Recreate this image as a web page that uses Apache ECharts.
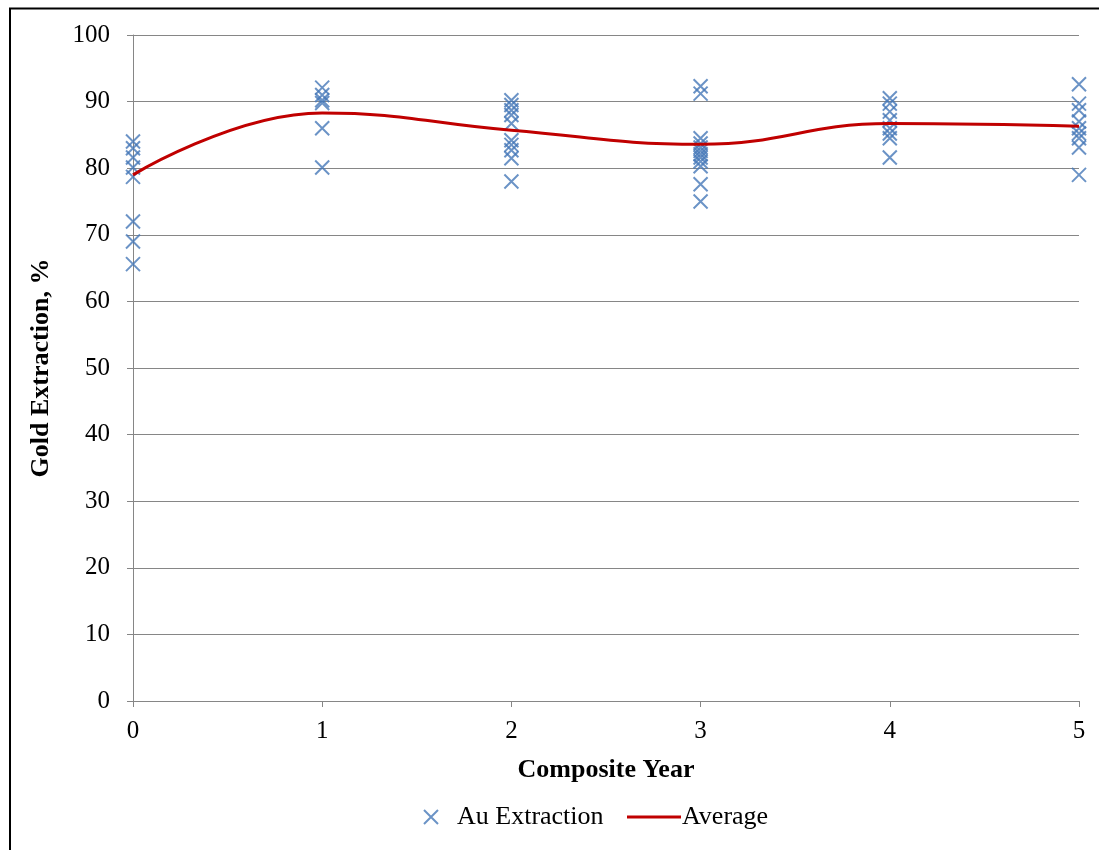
<!DOCTYPE html>
<html>
<head>
<meta charset="utf-8">
<script src="https://cdn.jsdelivr.net/npm/echarts@6/dist/echarts.min.js"></script>
<style>
html,body{margin:0;padding:0;background:#fff;}
#c{width:1099px;height:850px;}
</style>
</head>
<body>
<div id="c"></div>
<script>
// Composite year of each sample and gold extraction (%)
const year0 = [84.0, 83.0, 81.6, 80.1, 78.7, 72.0, 69.0, 65.6];
const year1 = [92.1, 91.0, 90.2, 89.8, 86.0, 80.1];
const year2 = [90.2, 89.5, 88.7, 88.0, 86.7, 84.2, 83.5, 82.7, 81.5, 78.0];
const year3 = [92.3, 91.2, 84.5, 83.7, 83.1, 82.6, 82.1, 81.6, 81.0, 80.3, 77.6, 75.0];
const year4 = [90.5, 89.7, 88.5, 87.2, 86.0, 85.2, 84.5, 81.6];
const year5 = [92.6, 89.7, 88.7, 87.0, 86.0, 85.2, 84.5, 83.1, 79.0];
const avgYears = [0, 1, 2, 3, 4, 5];
const avgValues = [79.0, 88.3, 85.7, 83.6, 86.7, 86.3];
const yTicks = [0, 100, 10];
const xTicks = [0, 5, 1];

const groups = [year0, year1, year2, year3, year4, year5];
const scatterData = [];
groups.forEach((g, yr) => g.forEach(v => scatterData.push([yr, v])));
const avgData = avgYears.map((x, i) => [x, avgValues[i]]);

const font = '"Liberation Serif", "Times New Roman", serif';
const grey = '#868686';
const chart = echarts.init(document.getElementById('c'));
chart.setOption({
  animation: false,
  backgroundColor: '#fff',
  graphic: [{
    type: 'polyline', silent: true,
    shape: { points: [[10, 860], [10, 8.5], [1110, 8.5]] },
    style: { stroke: '#000', lineWidth: 2, fill: null }
  }],
  grid: { left: 133, right: 20, top: 35, bottom: 149, containLabel: false },
  xAxis: {
    type: 'value', min: xTicks[0], max: xTicks[1], interval: xTicks[2],
    name: 'Composite Year', nameLocation: 'middle', nameGap: 56,
    nameTextStyle: { fontFamily: font, fontSize: 26, fontWeight: 'bold', color: '#000' },
    axisLine: { show: true, lineStyle: { color: grey, width: 1 } },
    axisTick: { show: true, length: 6, lineStyle: { color: grey } },
    axisLabel: { fontFamily: font, fontSize: 25, color: '#000', margin: 18 },
    splitLine: { show: false }
  },
  yAxis: {
    type: 'value', min: yTicks[0], max: yTicks[1], interval: yTicks[2],
    name: 'Gold Extraction, %', nameLocation: 'middle', nameGap: 79,
    nameTextStyle: { fontFamily: font, fontSize: 26, fontWeight: 'bold', color: '#000' },
    axisLine: { show: true, lineStyle: { color: grey, width: 1 } },
    axisTick: { show: true, length: 6, lineStyle: { color: grey } },
    axisLabel: { fontFamily: font, fontSize: 25, color: '#000', margin: 23 },
    splitLine: { show: true, lineStyle: { color: grey, width: 1 } }
  },
  legend: [{
    data: ['Au Extraction'], left: 418, top: 799, itemWidth: 14, itemHeight: 14,
    textStyle: { fontFamily: font, fontSize: 26, color: '#000', padding: [0, 0, 0, 14] }
  }, {
    data: [{ name: 'Average', icon: 'rect' }], left: 622, top: 799, itemWidth: 54, itemHeight: 3,
    textStyle: { fontFamily: font, fontSize: 26, color: '#000', padding: [0, 0, 0, -4] }
  }],
  series: [{
    name: 'Au Extraction', type: 'scatter',
    symbol: 'path://M0,0L10,10M10,0L0,10', symbolSize: 14,
    itemStyle: { color: 'rgba(0,0,0,0)', borderColor: '#4678b8', borderWidth: 2 },
    data: scatterData, z: 3
  }, {
    name: 'Average', type: 'line', smooth: 0.45, symbol: 'none',
    lineStyle: { color: '#c00000', width: 3 }, itemStyle: { color: '#c00000' },
    data: avgData, z: 4
  }]
});
</script>
</body>
</html>
